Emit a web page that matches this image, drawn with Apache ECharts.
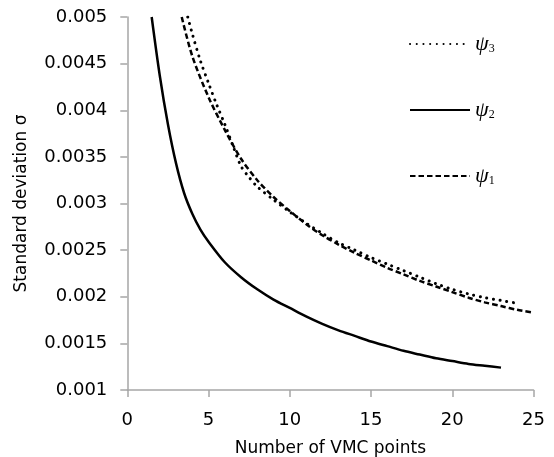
<!DOCTYPE html>
<html>
<head>
<meta charset="utf-8">
<script src="https://cdn.jsdelivr.net/npm/echarts@6/dist/echarts.min.js"></script>
<style>
  html, body { margin: 0; padding: 0; background: #fff; }
  #chart { width: 554px; height: 457px; }
</style>
</head>
<body>
<div id="chart"></div>
<script>
// values
const psi1X = [3.35, 4, 5, 6, 7, 8, 9, 10, 11, 12, 13, 14, 15, 16, 17, 18, 19, 20, 21, 22, 23, 24, 25];
const psi1Y = [0.005, 0.00458, 0.00414, 0.00379, 0.00348, 0.00325, 0.00307, 0.00292, 0.00278, 0.00266, 0.00256, 0.00247, 0.00239, 0.00231, 0.00224, 0.00217, 0.00211, 0.00205, 0.00199, 0.00194, 0.0019, 0.00186, 0.00183];

const psi2X = [1.5, 2, 2.5, 3, 3.5, 4, 4.5, 5, 6, 7, 8, 9, 10, 11, 12, 13, 14, 15, 16, 17, 18, 19, 20, 21, 22, 23];
const psi2Y = [0.005, 0.00437, 0.00385, 0.00343, 0.00311, 0.00289, 0.00272, 0.00259, 0.00237, 0.00221, 0.00208, 0.00197, 0.00188, 0.00179, 0.00171, 0.00164, 0.00158, 0.00152, 0.00147, 0.00142, 0.00138, 0.00134, 0.00131, 0.00128, 0.00126, 0.00124];

const psi3X = [3.72, 4, 4.5, 5, 5.5, 6, 6.5, 7, 7.5, 8, 9, 10, 11, 12, 13, 14, 15, 16, 17, 18, 19, 20, 21, 22, 23, 24];
const psi3Y = [0.005, 0.00482, 0.00453, 0.00429, 0.00406, 0.00385, 0.00362, 0.0034, 0.00328, 0.00318, 0.00304, 0.00291, 0.00279, 0.00268, 0.00258, 0.0025, 0.00242, 0.00235, 0.00228, 0.00221, 0.00214, 0.00208, 0.00203, 0.00199, 0.00196, 0.00193];

const xTicks = [0, 5, 10, 15, 20, 25];
const yTicks = [0.001, 0.0015, 0.002, 0.0025, 0.003, 0.0035, 0.004, 0.0045, 0.005];

const pairs = (xs, ys) => xs.map((x, i) => [x, ys[i]]);

const chart = echarts.init(document.getElementById('chart'));

const axisGray = '#a6a6a6';
const font = '"DejaVu Sans", Verdana, sans-serif';
const serif = '"Liberation Serif", "DejaVu Serif", serif';

const legendText = {
  fontFamily: serif,
  color: '#000',
  rich: {
    p: { fontSize: 22, fontStyle: 'italic', fontFamily: serif, color: '#000' },
    s: { fontSize: 12, fontFamily: serif, color: '#000', padding: [10, 0, 0, 0] }
  }
};
const legendFmt = name => '{p|ψ}{s|' + name.slice(1) + '}';

function oneLegend(name, top) {
  return {
    data: [name],
    left: 409,
    top: top,
    padding: 0,
    itemWidth: 60,
    itemHeight: 14,
    itemGap: 4,
    selectedMode: false,
    formatter: legendFmt,
    itemStyle: { opacity: 0 },
    textStyle: legendText
  };
}

chart.setOption({
  animation: false,
  grid: { left: 127.3, right: 20.5, top: 17, bottom: 67, outerBoundsMode: 'none' },
  legend: [
    oneLegend('ψ3', 33),
    oneLegend('ψ2', 99),
    oneLegend('ψ1', 165)
  ],
  xAxis: {
    type: 'value',
    min: xTicks[0],
    max: xTicks[xTicks.length - 1],
    interval: 5,
    name: 'Number of VMC points',
    nameLocation: 'middle',
    nameGap: 50,
    nameTextStyle: { fontFamily: font, fontSize: 17, color: '#000' },
    axisLine: { show: true, lineStyle: { color: axisGray, width: 1.5 } },
    axisTick: { show: true, length: 7, lineStyle: { color: axisGray, width: 1.5 } },
    axisLabel: { margin: 21, fontFamily: font, fontSize: 18, color: '#000' },
    splitLine: { show: false }
  },
  yAxis: {
    type: 'value',
    min: yTicks[0],
    max: yTicks[yTicks.length - 1],
    interval: 0.0005,
    name: 'Standard deviation σ',
    nameLocation: 'middle',
    nameGap: 97,
    nameTextStyle: { fontFamily: font, fontSize: 17, color: '#000' },
    axisLine: { show: true, lineStyle: { color: axisGray, width: 1.5 } },
    axisTick: { show: true, length: 7, lineStyle: { color: axisGray, width: 1.5 } },
    axisLabel: {
      margin: 20,
      fontFamily: font,
      fontSize: 18,
      color: '#000',
      formatter: v => String(+v.toFixed(4))
    },
    splitLine: { show: false }
  },
  series: [
    {
      name: 'ψ1',
      type: 'line',
      data: pairs(psi1X, psi1Y),
      smooth: 0.3,
      showSymbol: false,
      symbol: 'none',
      clip: true,
      itemStyle: { color: '#000' },
      lineStyle: { color: '#000', width: 2.5, type: [5.5, 3] }
    },
    {
      name: 'ψ2',
      type: 'line',
      data: pairs(psi2X, psi2Y),
      smooth: 0.3,
      showSymbol: false,
      symbol: 'none',
      clip: true,
      itemStyle: { color: '#000' },
      lineStyle: { color: '#000', width: 2.5, type: 'solid' }
    },
    {
      name: 'ψ3',
      type: 'line',
      data: pairs(psi3X, psi3Y),
      smooth: 0.3,
      showSymbol: false,
      symbol: 'none',
      clip: true,
      itemStyle: { color: '#000' },
      lineStyle: { color: '#000', width: 3, type: [0.1, 6.6], cap: 'round' }
    }
  ]
});
</script>
</body>
</html>
